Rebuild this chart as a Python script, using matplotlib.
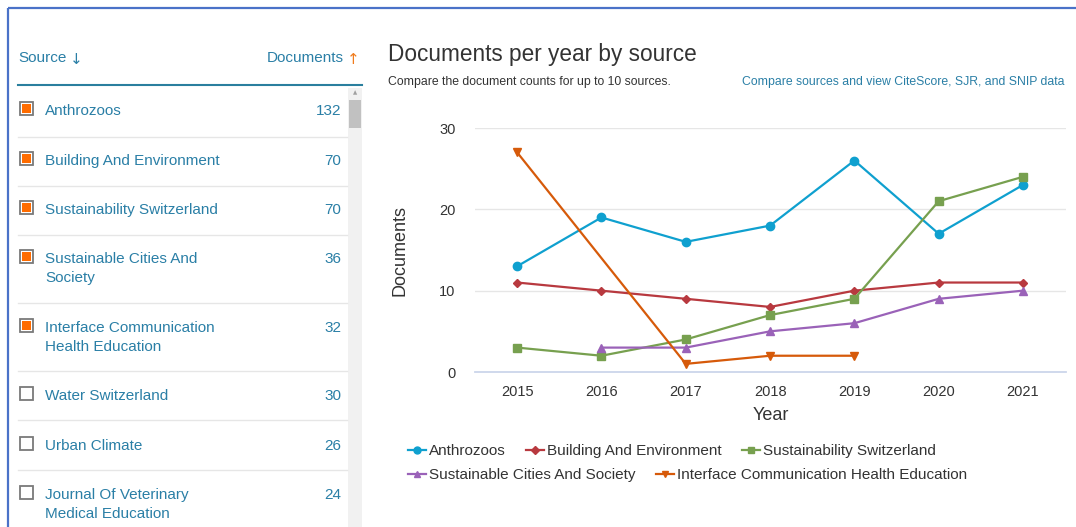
import matplotlib
matplotlib.use("Agg")
import matplotlib.pyplot as plt
from matplotlib.patches import Rectangle
import numpy as np

plt.rcParams['font.family'] = ['Liberation Sans', 'DejaVu Sans']

years = [2015, 2016, 2017, 2018, 2019, 2020, 2021]
anthrozoos = [13, 19, 16, 18, 26, 17, 23]
building = [11, 10, 9, 8, 10, 11, 11]
sust_switz = [3, 2, 4, 7, 9, 21, 24]
sust_cities = [None, 3, 3, 5, 6, 9, 10]
interface = [27, None, 1, 2, 2, None, None]

series_names = ["Anthrozoos", "Building And Environment", "Sustainability Switzerland",
                "Sustainable Cities And Society", "Interface Communication Health Education"]
series_values = [anthrozoos, building, sust_switz, sust_cities, interface]
series_colors = ["#0fa0cf", "#b8393f", "#77a04f", "#9a62b8", "#d65a0a"]
series_markers = ["o", "D", "s", "^", "v"]
series_msize = [6, 4.5, 6, 5.5, 5.5]
legend_msize = [5, 4, 5, 5, 5]

list_sources = [["Anthrozoos"], ["Building And Environment"], ["Sustainability Switzerland"],
                ["Sustainable Cities And", "Society"], ["Interface Communication", "Health Education"],
                ["Water Switzerland"], ["Urban Climate"], ["Journal Of Veterinary", "Medical Education"]]
list_counts = [132, 70, 70, 36, 32, 30, 26, 24]
list_checked = [True, True, True, True, True, False, False, False]

W, H = 1076, 527
fig = plt.figure(figsize=(W / 100, H / 100), dpi=100)

# overlay in pixel coordinates
ov = fig.add_axes([0, 0, 1, 1])
ov.set_xlim(0, W)
ov.set_ylim(H, 0)
ov.axis('off')

link = "#2a7fa6"
# border
ov.plot([8, W], [8, 8], color="#4a72c8", lw=1.6, solid_capstyle='butt')
ov.plot([8, 8], [8, H], color="#4a72c8", lw=1.6, solid_capstyle='butt')

# header
ov.text(18, 58, "Source", color=link, fontsize=11, va='center', ha='left')
ov.text(70, 59, "↓", color=link, fontsize=11, va='center', ha='left', family='DejaVu Sans')
ov.text(344, 58, "Documents", color=link, fontsize=11, va='center', ha='right')
ov.text(347, 59, "↑", color="#f07c1e", fontsize=11, va='center', ha='left', family='DejaVu Sans')
ov.plot([18, 362], [85, 85], color="#2a7f9e", lw=1.5)

# scrollbar
ov.add_patch(Rectangle((348, 88), 14, H - 88, facecolor="#f1f1f1", edgecolor='none'))
ov.add_patch(Rectangle((349, 100), 12, 28, facecolor="#c1c1c1", edgecolor='none'))
ov.text(355, 93, "▲", color="#a0a0a0", fontsize=4, ha='center', va='center', family='DejaVu Sans')

row_tops = [88, 137, 186, 235, 303, 371, 420, 470]
row_text_y = [110, 160, 209, 258, 327, 395, 445, 494]
for i, (lines, cnt, chk) in enumerate(zip(list_sources, list_counts, list_checked)):
    y = row_text_y[i]
    ov.add_patch(Rectangle((19.5, y - 8.5), 13.5, 13.5, facecolor='white', edgecolor="#7a7a7a", lw=1.3))
    if chk:
        ov.add_patch(Rectangle((21.8, y - 6.2), 9, 9, facecolor="#ff6c00", edgecolor='none'))
    for j, ln in enumerate(lines):
        ov.text(45, y + 1 + j * 19, ln, color=link, fontsize=11, va='center', ha='left')
    ov.text(341, y + 1, str(cnt), color=link, fontsize=11, va='center', ha='right')
    if i > 0:
        ov.plot([18, 347], [row_tops[i], row_tops[i]], color="#e6e6e6", lw=1)

# title area
ov.text(388, 55, "Documents per year by source", fontsize=16.3, color="#333333", va='center', ha='left')
ov.text(388, 82, "Compare the document counts for up to 10 sources.", fontsize=8.8, color="#333333",
        va='center', ha='left')
ov.text(1064, 82, "Compare sources and view CiteScore, SJR, and SNIP data", fontsize=8.8, color=link,
        va='center', ha='right')

# chart axes
l, r, t, b = 475, 1066, 128, 372
ax = fig.add_axes([l / W, 1 - b / H, (r - l) / W, (b - t) / H])
ax.patch.set_alpha(0)
ax.set_xlim(2014.5, 2021.51)
ax.set_ylim(0, 30)
for s in ax.spines.values():
    s.set_visible(False)
ax.set_yticks([0, 10, 20, 30])
ax.set_xticks(years)
ax.tick_params(length=0, labelsize=10.5, colors="#333333")
ax.tick_params(axis='y', pad=14)
ax.tick_params(axis='x', pad=9)
for yv in [10, 20, 30]:
    ax.axhline(yv, color="#e6e6e6", lw=1, zorder=0)
ax.axhline(0, color="#ccd6eb", lw=1.3, zorder=0, clip_on=False)

handles = []
for name, vals, c, m, ms in zip(series_names, series_values, series_colors, series_markers, series_msize):
    xs = [x for x, v in zip(years, vals) if v is not None]
    ys = [v for v in vals if v is not None]
    h, = ax.plot(xs, ys, color=c, marker=m, markersize=ms, lw=1.6, label=name, clip_on=False, zorder=3)
    handles.append(h)

ax.set_ylabel("Documents", fontsize=13, color="#333333", labelpad=22)
ax.set_xlabel("Year", fontsize=13, color="#333333", labelpad=6)

leg_kw = dict(frameon=False, fontsize=11, handlelength=1.2, handletextpad=0.2, columnspacing=1.3,
              labelcolor="#333333", borderaxespad=0, borderpad=0)
leg1 = fig.legend(handles[:3], series_names[:3], ncol=3, loc='center left',
                  bbox_to_anchor=(408 / W, 1 - 451 / H), **leg_kw)
leg2 = fig.legend(handles[3:], series_names[3:], ncol=2, loc='center left',
                  bbox_to_anchor=(408 / W, 1 - 475 / H), **leg_kw)
for lh, ms in zip(list(leg1.legend_handles) + list(leg2.legend_handles), legend_msize):
    lh.set_markersize(ms)

fig.savefig("out.png", dpi=100, facecolor='white')
